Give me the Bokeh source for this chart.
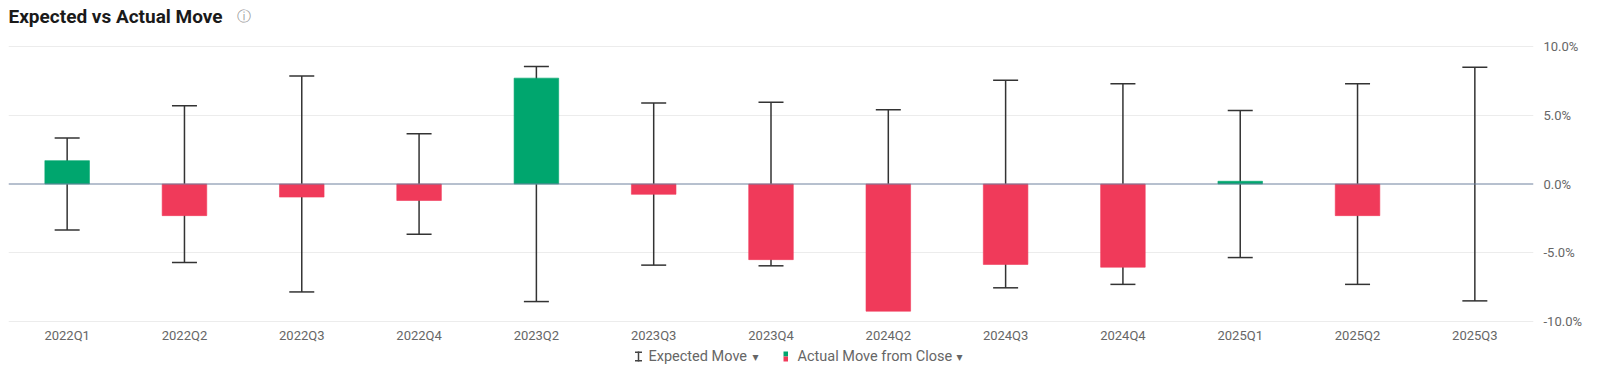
import math
from bokeh.plotting import figure
from bokeh.models import (Range1d, FactorRange, FixedTicker, Whisker, TeeHead, ColumnDataSource,
                          Span, Label, BoxAnnotation, PrintfTickFormatter)
from bokeh.core.properties import value
from bokeh.embed import file_html
from bokeh.resources import INLINE

quarters = ["2022Q1", "2022Q2", "2022Q3", "2022Q4", "2023Q2", "2023Q3", "2023Q4",
            "2024Q2", "2024Q3", "2024Q4", "2025Q1", "2025Q2", "2025Q3"]
actual_move = [1.7, -2.3, -0.95, -1.2, 7.7, -0.75, -5.5, -9.25, -5.85, -6.05, 0.2, -2.3, float("nan")]
expected_move = [3.35, 5.7, 7.85, 3.65, 8.55, 5.9, 5.95, 5.4, 7.55, 7.3, 5.35, 7.3, 8.5]
y_ticks = [-10, -5, 0, 5, 10]

W, H = 1584, 364
PLOT_TOP, PLOT_BOT = 46, 321          # pixel rows of +10% / -10%
PPU = (PLOT_BOT - PLOT_TOP) / 20.0    # pixels per 1%


def py(px):
    """pixel row (from top) -> y data value"""
    return 10 - (px - PLOT_TOP) / PPU


GREEN = "#00a66e"
RED = "#f03a5a"
TXT = "#666666"

colors = [GREEN if (not math.isnan(v) and v >= 0) else RED for v in actual_move]
bars = ColumnDataSource(dict(q=quarters, top=actual_move, color=colors))
errs = ColumnDataSource(dict(q=quarters, upper=list(expected_move),
                             lower=[-e for e in expected_move]))

p = figure(width=W, height=H, x_range=FactorRange(*quarters), y_range=Range1d(py(H), py(0)),
           output_backend="svg", toolbar_location=None, y_axis_location="right",
           x_axis_location=None, title=None,
           min_border_top=0, min_border_bottom=0, min_border_left=8, min_border_right=0)
p.outline_line_color = None
p.background_fill_color = "white"
p.border_fill_color = "white"

p.xgrid.visible = False
p.ygrid.ticker = FixedTicker(ticks=[-10, -5, 5, 10])
p.ygrid.grid_line_color = "#ececec"
p.ygrid.grid_line_width = 1

ya = p.yaxis[0]
ya.axis_line_color = None
ya.major_tick_line_color = None
ya.minor_tick_line_color = None
ya.major_label_text_font = "Roboto"
ya.major_label_text_font_size = "13px"
ya.major_label_text_color = TXT
ya.ticker = FixedTicker(ticks=y_ticks)
ya.formatter = PrintfTickFormatter(format="%.1f%%")
ya.major_label_standoff = 4

# zero line
p.add_layout(Span(location=0, dimension="width", line_color="#6f819e", line_width=1))

# category labels (x axis)
p.text(x=quarters, y=py(335), text=quarters, text_font=value("Roboto"), text_font_size="13px",
       text_color=TXT, text_align="center", text_baseline="middle")

# bars
p.vbar(x="q", top="top", bottom=0, width=0.38, source=bars, fill_color="color",
       line_color="color", line_alpha=0.6)

# expected move error bars
p.add_layout(Whisker(base="q", upper="upper", lower="lower", source=errs,
                     line_color="#333333", line_width=1.5,
                     upper_head=TeeHead(size=25, line_color="#333333", line_width=1.5),
                     lower_head=TeeHead(size=25, line_color="#333333", line_width=1.5)))

# title (x in screen px from the plot's left edge at page x=8)
p.add_layout(Label(x=0, y=py(16), x_units="screen", text="Expected vs Actual Move",
                   text_font="Roboto", text_font_style="bold", text_font_size="19px",
                   text_color="#1a1a1a", text_baseline="middle"))
p.add_layout(Label(x=228, y=py(15), x_units="screen", text="ⓘ",
                   text_font="DejaVu Sans", text_font_size="14px",
                   text_color="#9a9a9a", text_baseline="middle"))

# legend
LY = 356


def sbox(l, r, t, b, color):
    p.add_layout(BoxAnnotation(left=l, right=r, top=py(t), bottom=py(b),
                               left_units="screen", right_units="screen",
                               fill_color=color, fill_alpha=1, line_color=None))


# I-beam icon
sbox(629.25, 630.75, LY - 5, LY + 5, "#444444")
sbox(626.5, 633.5, LY - 5, LY - 3.5, "#444444")
sbox(626.5, 633.5, LY + 3.5, LY + 5, "#444444")
p.add_layout(Label(x=640, y=py(LY), x_units="screen", text="Expected Move", text_font="Roboto",
                   text_font_size="14.5px", text_color=TXT, text_baseline="middle"))
p.add_layout(Label(x=744, y=py(LY), x_units="screen", text="▾", text_font="DejaVu Sans",
                   text_font_size="12px", text_color=TXT, text_baseline="middle"))
# green / red swatch
sbox(775, 779.5, LY - 5, LY, GREEN)
sbox(775, 779.5, LY, LY + 5, RED)
p.add_layout(Label(x=789, y=py(LY), x_units="screen", text="Actual Move from Close", text_font="Roboto",
                   text_font_size="14.5px", text_color=TXT, text_baseline="middle"))
p.add_layout(Label(x=948, y=py(LY), x_units="screen", text="▾", text_font="DejaVu Sans",
                   text_font_size="12px", text_color=TXT, text_baseline="middle"))

open("out.html", "w").write(file_html(p, INLINE))
